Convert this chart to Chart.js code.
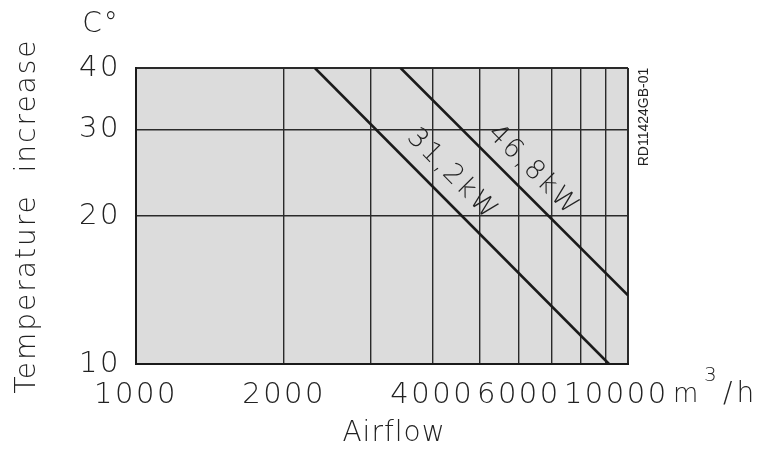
<!DOCTYPE html>
<html><head><meta charset="utf-8">
<script src="https://cdn.jsdelivr.net/npm/chart.js@4"></script>
<style>html,body{margin:0;padding:0;background:#fff}#wrap{width:775px;height:450px}</style>
</head><body><div id="wrap"><canvas id="c" width="775" height="450"></canvas></div>
<script>
// ---- data ----
const xTicks = [1000, 2000, 3000, 4000, 5000, 6000, 7000, 8000, 9000, 10000];
const xTickLabels = {1000: '1000', 2000: '2000', 4000: '4000', 6000: '6000', 10000: '10000  '};
const yTicks = [10, 20, 30, 40];
const seriesNames = ['31,2kW', '46,8kW'];
const airflow31 = [2310, 9150];
const temp31 = [40, 10];
const airflow47 = [3450, 10000];
const temp47 = [40, 13.8];
const labelPos = [0.414, 0.518];   // fraction along each line where its label sits
const labelGap = [22, 21];          // px gap between line and label

const FONT = "'DejaVu Sans ExtraLight', 'DejaVu Sans', sans-serif";
const W = 775, H = 450;
const area = {left: 136, top: 68, right: 628, bottom: 364};

const toPts = (xs, ys) => xs.map((x, i) => ({x: x, y: ys[i]}));

const deco = {
  id: 'deco',
  beforeDraw(chart) {
    const ctx = chart.ctx, a = chart.chartArea;
    ctx.save();
    ctx.fillStyle = '#dcdcdc';
    ctx.fillRect(a.left, a.top, a.right - a.left, a.bottom - a.top);
    ctx.restore();
    ctx.letterSpacing = '2.5px';
  },
  afterDraw(chart) {
    const ctx = chart.ctx;
    const xs = chart.scales.x, ys = chart.scales.y;
    ctx.save();
    ctx.fillStyle = '#222';
    // axis titles
    ctx.font = "200 28px " + FONT;
    ctx.letterSpacing = '1px';
    ctx.textAlign = 'center';
    ctx.textBaseline = 'middle';
    ctx.fillText('Airflow', 394, 434);
    ctx.save();
    ctx.translate(28, 216);
    ctx.rotate(-Math.PI / 2);
    ctx.letterSpacing = '2px';
    ctx.fillText('Temperature  increase', 0, 0);
    ctx.restore();
    // units
    ctx.letterSpacing = '2px';
    ctx.font = "200 28px " + FONT;
    ctx.fillText('C°', 101, 25);
    ctx.textAlign = 'left';
    ctx.textBaseline = 'alphabetic';
    ctx.font = "200 26px " + FONT;
    ctx.fillText('m', 673, 402);
    ctx.font = "200 20px " + FONT;
    ctx.fillText('3', 704, 381);
    ctx.font = "200 28px " + FONT;
    ctx.letterSpacing = '4px';
    ctx.fillText('/h', 723, 402);
    // drawing code
    ctx.save();
    ctx.translate(644, 117);
    ctx.rotate(-Math.PI / 2);
    ctx.letterSpacing = '0px';
    ctx.font = "14px 'Liberation Sans', Arial, sans-serif";
    ctx.textAlign = 'center';
    ctx.textBaseline = 'middle';
    ctx.fillText('RD11424GB-01', 0, 0);
    ctx.restore();
    // series labels along lines
    chart.data.datasets.forEach((ds, i) => {
      const p0 = ds.data[0], p1 = ds.data[ds.data.length - 1];
      const x0 = xs.getPixelForValue(p0.x), y0 = ys.getPixelForValue(p0.y);
      const x1 = xs.getPixelForValue(p1.x), y1 = ys.getPixelForValue(p1.y);
      const dx = x1 - x0, dy = y1 - y0, len = Math.hypot(dx, dy);
      const t = labelPos[i];
      const nx = dy / len, ny = -dx / len; // normal toward upper-right
      const cx = x0 + dx * t + nx * labelGap[i];
      const cy = y0 + dy * t + ny * labelGap[i];
      ctx.save();
      ctx.translate(cx, cy);
      ctx.rotate(Math.atan2(dy, dx));
      ctx.font = "200 27px " + FONT;
      ctx.letterSpacing = '2.5px';
      ctx.textAlign = 'center';
      ctx.textBaseline = 'middle';
      ctx.fillText(ds.label, 0, 0);
      ctx.restore();
    });
    ctx.restore();
    ctx.letterSpacing = '0px';
  }
};

const edgeW = (ctx, lo, hi) => {
  const v = ctx.tick && ctx.tick.value;
  return (v === lo || v === hi) ? 2 : 1.4;
};

new Chart(document.getElementById('c'), {
  type: 'scatter',
  data: {
    datasets: [
      {label: seriesNames[0], data: toPts(airflow31, temp31)},
      {label: seriesNames[1], data: toPts(airflow47, temp47)}
    ].map(d => Object.assign(d, {showLine: true, borderColor: '#1a1a1a', borderWidth: 2.6, pointRadius: 0, tension: 0}))
  },
  options: {
    responsive: false,
    animation: false,
    devicePixelRatio: 1,
    layout: {padding: {left: 0, top: area.top, right: W - area.right, bottom: 0}},
    plugins: {legend: {display: false}, tooltip: {enabled: false}},
    scales: {
      x: {
        type: 'logarithmic', min: 1000, max: 10000,
        afterBuildTicks: s => { s.ticks = xTicks.map(v => ({value: v})); },
        afterFit: s => { s.height = H - area.bottom; },
        ticks: {
          autoSkip: false, maxRotation: 0, minRotation: 0, padding: 14, color: '#222',
          font: {family: FONT, size: 29, weight: '200'},
          callback: v => (xTickLabels[v] !== undefined ? xTickLabels[v] : '')
        },
        grid: {color: '#2a2a2a', lineWidth: c => edgeW(c, 1000, 10000), drawTicks: false},
        border: {display: true, color: '#1a1a1a', width: 2}
      },
      y: {
        type: 'logarithmic', min: 10, max: 40,
        afterBuildTicks: s => { s.ticks = yTicks.map(v => ({value: v})); },
        afterFit: s => { s.width = area.left; },
        ticks: {
          autoSkip: false, padding: 15, color: '#222',
          font: {family: FONT, size: 29, weight: '200'},
          callback: v => String(v)
        },
        grid: {color: '#2a2a2a', lineWidth: c => edgeW(c, 10, 40), drawTicks: false},
        border: {display: true, color: '#1a1a1a', width: 2}
      }
    }
  },
  plugins: [deco]
});
</script>
</body></html>
